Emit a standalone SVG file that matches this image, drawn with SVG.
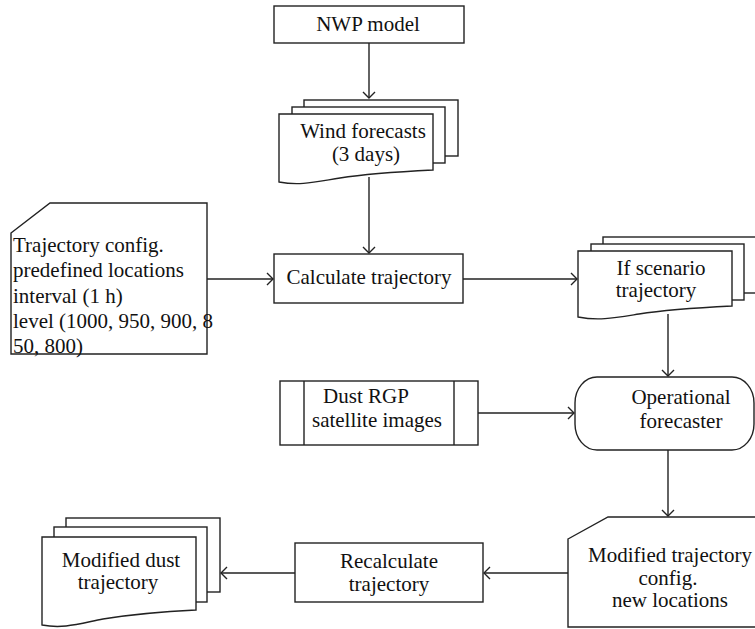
<svg xmlns="http://www.w3.org/2000/svg" width="755" height="629" viewBox="0 0 755 629">
<style>
.s{fill:#fff;stroke:#222;stroke-width:1.4}
.c{fill:none;stroke:#222;stroke-width:1.4}
text{font-family:"Liberation Serif","Times New Roman",serif;font-size:21px;fill:#111}
.m{text-anchor:middle}
</style>
<defs>
<marker id="a" markerUnits="userSpaceOnUse" viewBox="-8 -8 10 16" refX="0" refY="0" markerWidth="10" markerHeight="16" orient="auto">
<path d="M-6,-6 L0,0 L-6,6" fill="none" stroke="#222" stroke-width="1.4"/>
</marker>
</defs>
<rect width="755" height="629" fill="#fff"/>
<g id="connectors">
<path class="c" d="M369,43 V98" marker-end="url(#a)"/>
<path class="c" d="M369,177 V253" marker-end="url(#a)"/>
<path class="c" d="M207,279 H273" marker-end="url(#a)"/>
<path class="c" d="M463,279 H577" marker-end="url(#a)"/>
<path class="c" d="M668,314 V376" marker-end="url(#a)"/>
<path class="c" d="M478,413 H574" marker-end="url(#a)"/>
<path class="c" d="M668,450 V516" marker-end="url(#a)"/>
<path class="c" d="M568,573 H484" marker-end="url(#a)"/>
<path class="c" d="M295,573 H221" marker-end="url(#a)"/>
</g>
<g id="nwp">
<rect class="s" x="274" y="6" width="190" height="37"/>
<text class="m" x="368" y="31">NWP model</text>
</g>
<g id="wind">
<rect class="s" x="304" y="100" width="154" height="56"/>
<rect class="s" x="292" y="107" width="153" height="56"/>
<path class="s" d="M279,114 H433 V170 C393,172 365,174 340,178 C315,182 300,186 279,182 Z"/>
<text class="m" x="363" y="138">Wind forecasts</text>
<text class="m" x="366" y="161">(3 days)</text>
</g>
<g id="config">
<path class="s" d="M11,233 L50,203 H207 V354 H11 Z"/>
<text x="13" y="252">Trajectory config.</text>
<text x="13" y="277">predefined locations</text>
<text x="13" y="303">interval (1 h)</text>
<text x="13" y="328">level (1000, 950, 900, 8</text>
<text x="13" y="353">50, 800)</text>
</g>
<g id="calc">
<rect class="s" x="274" y="254" width="189" height="49"/>
<text class="m" x="369" y="284">Calculate trajectory</text>
</g>
<g id="scenario">
<rect class="s" x="603" y="237" width="160" height="56"/>
<rect class="s" x="591" y="244" width="153" height="56"/>
<path class="s" d="M578,251 H732 V306 C692,308 664,310 639,314 C614,318 599,321 578,317 Z"/>
<text class="m" x="661" y="275">If scenario</text>
<text class="m" x="656" y="297">trajectory</text>
</g>
<g id="dust">
<rect class="s" x="280" y="381" width="198" height="64"/>
<path class="c" d="M304,381 V445 M454,381 V445"/>
<text class="m" x="366" y="403">Dust RGP</text>
<text class="m" x="377" y="427">satellite images</text>
</g>
<g id="forecaster">
<rect class="s" x="575" y="377" width="179" height="73" rx="22" ry="26"/>
<text class="m" x="681" y="404">Operational</text>
<text class="m" x="681" y="428">forecaster</text>
</g>
<g id="modconfig">
<path class="s" d="M568,539 L608,517 H760 V627 H568 Z"/>
<text class="m" x="670" y="562">Modified trajectory</text>
<text class="m" x="668" y="585">config.</text>
<text class="m" x="670" y="607">new locations</text>
</g>
<g id="recalc">
<rect class="s" x="295" y="543" width="188" height="59"/>
<text class="m" x="389" y="568">Recalculate</text>
<text class="m" x="389" y="591">trajectory</text>
</g>
<g id="moddust">
<rect class="s" x="66" y="518" width="154" height="74"/>
<rect class="s" x="54" y="527" width="153" height="75"/>
<path class="s" d="M42,537 H196 V610 C156,612 128,615 103,619 C78,624 63,629 42,625 Z"/>
<text class="m" x="121" y="567">Modified dust</text>
<text class="m" x="118" y="589">trajectory</text>
</g>
</svg>
